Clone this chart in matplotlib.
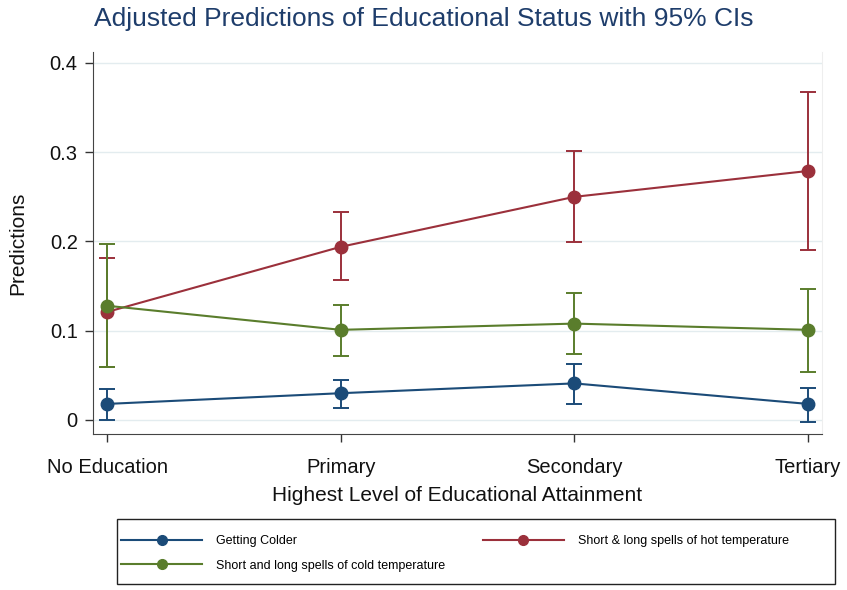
import matplotlib
matplotlib.use("Agg")
import matplotlib.pyplot as plt
from matplotlib.lines import Line2D
from matplotlib.patches import Rectangle

plt.rcParams['font.family'] = ['Liberation Sans', 'DejaVu Sans']

categories = ["No Education", "Primary", "Secondary", "Tertiary"]

colder = [0.018, 0.030, 0.041, 0.018]
colder_lo = [0.000, 0.013, 0.018, -0.002]
colder_hi = [0.035, 0.045, 0.063, 0.036]

hot = [0.121, 0.194, 0.250, 0.279]
hot_lo = [0.059, 0.157, 0.199, 0.190]
hot_hi = [0.182, 0.233, 0.301, 0.368]

cold = [0.128, 0.101, 0.108, 0.101]
cold_lo = [0.059, 0.072, 0.074, 0.054]
cold_hi = [0.197, 0.129, 0.142, 0.147]

y_ticks = [0, 0.1, 0.2, 0.3, 0.4]
y_ticklabels = ["0", "0.1", "0.2", "0.3", "0.4"]

series = [
    ("Getting Colder", colder, colder_lo, colder_hi, "#1b4b78"),
    ("Short & long spells of hot temperature", hot, hot_lo, hot_hi, "#9b303b"),
    ("Short and long spells of cold temperature", cold, cold_lo, cold_hi, "#5a7d2c"),
]

W, H = 847, 590
fig = plt.figure(figsize=(W / 100, H / 100), dpi=100)
ax = fig.add_axes([93 / W, 1 - 434 / H, (822 - 93) / W, (434 - 52) / H])

x = list(range(len(categories)))
handles = {}
for name, mid, lo, hi, col in series:
    err = [[m - l for m, l in zip(mid, lo)], [h - m for m, h in zip(mid, hi)]]
    ax.errorbar(x, mid, yerr=err, fmt='none', ecolor=col, elinewidth=1.4,
                capsize=5.5, capthick=1.4, zorder=2)
    ax.plot(x, mid, color=col, lw=1.5, marker='o', markersize=9, zorder=3)
    handles[name] = Line2D([], [], color=col, lw=1.5, marker='o', markersize=7)

ax.set_xlim(-0.06, 3.06)
ax.set_ylim(-0.0157, 0.4123)
ax.set_yticks(y_ticks)
ax.set_yticklabels(y_ticklabels)
ax.set_xticks(x)
ax.set_xticklabels(categories)
ax.tick_params(axis='both', labelsize=14.5, direction='out', length=6, width=1,
               color='#333333', labelcolor='#111111')
ax.tick_params(axis='x', pad=11)
ax.tick_params(axis='y', pad=5)

for yv in y_ticks:
    ax.axhline(yv, color='#e3ecef', lw=1, zorder=0)

ax.spines['top'].set_visible(False)
ax.spines['right'].set_color('#eeeeee')
ax.spines['left'].set_color('#444444')
ax.spines['bottom'].set_color('#444444')

ax.set_ylabel("Predictions", fontsize=15, color='#111111', labelpad=16)
ax.set_xlabel("Highest Level of Educational Attainment", fontsize=15,
              color='#111111', labelpad=7)

fig.text(0.5, 1 - 19 / H, "Adjusted Predictions of Educational Status with 95% CIs",
         ha='center', va='center', fontsize=19, color='#1e3d6b')

# legend frame drawn separately so the box spans its full width
fig.patches.append(Rectangle((117 / W, 1 - 584 / H), (835 - 117) / W, (584 - 519) / H,
                             transform=fig.transFigure, fill=False,
                             edgecolor='#222222', lw=1))

order = ["Getting Colder", "Short and long spells of cold temperature",
         "Short & long spells of hot temperature"]
leg = fig.legend([handles[k] for k in order], order, ncol=2,
                 loc='upper left', bbox_to_anchor=(121 / W, 1 - 535 / H),
                 fontsize=9, frameon=False,
                 handlelength=6.5, handletextpad=1.1, borderaxespad=0,
                 borderpad=0, labelspacing=1.0, columnspacing=3.0)

fig.savefig("out.png", dpi=100, facecolor='white')
